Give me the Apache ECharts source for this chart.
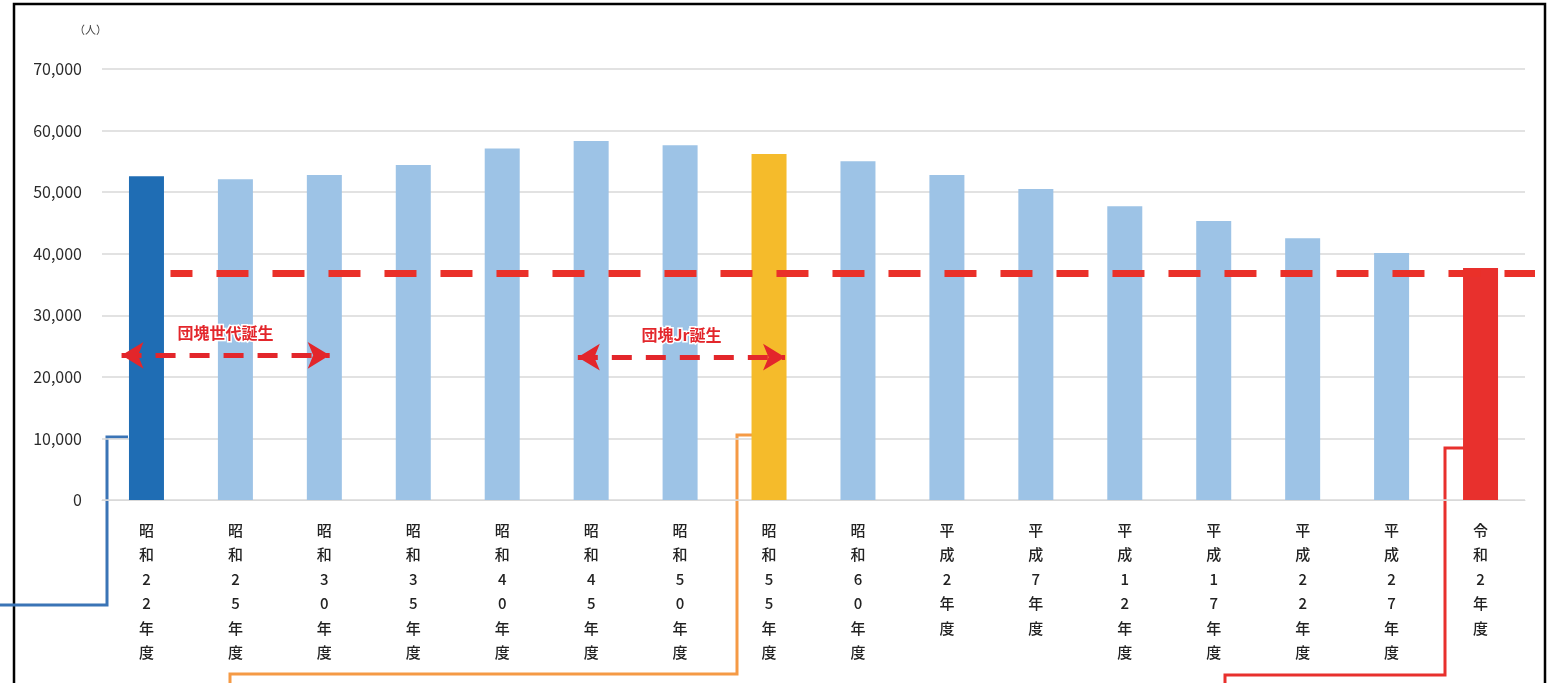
<!DOCTYPE html>
<html>
<head>
<meta charset="utf-8">
<script src="https://cdn.jsdelivr.net/npm/echarts@6/dist/echarts.min.js"></script>
<style>
  html, body { margin: 0; padding: 0; background: #fff; }
  #chart { width: 1559px; height: 683px; }
</style>
</head>
<body>
<div id="chart"></div>
<script>
// 年度ごとの人数（人）
const nendo = ['昭和22年度', '昭和25年度', '昭和30年度', '昭和35年度', '昭和40年度', '昭和45年度',
  '昭和50年度', '昭和55年度', '昭和60年度', '平成2年度', '平成7年度', '平成12年度',
  '平成17年度', '平成22年度', '平成27年度', '令和2年度']
const ninzu = [52600, 52100, 52800, 54400, 57100, 58300, 57600, 56200, 55000, 52800,
  50500, 47700, 45300, 42500, 40100, 37700]
const colores = ['#1f6db4', '#9dc3e6', '#9dc3e6', '#9dc3e6', '#9dc3e6', '#9dc3e6', '#9dc3e6',
  '#f5bb2b', '#9dc3e6', '#9dc3e6', '#9dc3e6', '#9dc3e6', '#9dc3e6', '#9dc3e6', '#9dc3e6', '#e8302d']
const lineaRef = 36850
// 矢印: [開始x, 終了x, y, ラベル]（x はカテゴリ番号）
const flechas = [
  [-0.28, 2.06, 23500, '団塊世代誕生'],
  [4.85, 7.18, 23200, '団塊Jr誕生']
]

const chart = echarts.init(document.getElementById('chart'))
const font = '"Noto Sans CJK JP", "Noto Sans", sans-serif'
const rojo = '#e3262b'

// 注釈用の2つ目のグリッドは右に10px広い（点線が枠の近くまで伸びるため）
const anchoG = 1559 - 102 - 34
const maxG2 = -0.5 + 16 * (anchoG + 10) / anchoG

const option = {
  animation: false,
  textStyle: { fontFamily: font },
  grid: [
    { left: 102, right: 34, top: 69, bottom: 183 },
    { left: 102, right: 24, top: 69, bottom: 183 }
  ],
  xAxis: [
    {
      type: 'category',
      data: nendo,
      axisLine: { lineStyle: { color: '#d9d9d9' } },
      axisTick: { show: false },
      axisLabel: {
        interval: 0,
        color: '#222',
        fontSize: 15,
        fontWeight: 500,
        lineHeight: 24.5,
        margin: 18,
        verticalAlign: 'top',
        formatter: v => v.split('').join('\n')
      }
    },
    { type: 'value', gridIndex: 1, min: -0.5, max: maxG2, show: false }
  ],
  yAxis: [
    {
      type: 'value',
      min: 0,
      max: 70000,
      interval: 10000,
      axisLine: { show: false },
      axisTick: { show: false },
      splitLine: { lineStyle: { color: '#d9d9d9', width: 1.5 } },
      axisLabel: {
        color: '#2a2a2a',
        fontSize: 16,
        margin: 20,
        formatter: v => v.toLocaleString('en-US')
      }
    },
    { type: 'value', gridIndex: 1, min: 0, max: 70000, show: false }
  ],
  series: [
    {
      type: 'bar',
      barWidth: 35,
      data: ninzu.map((v, i) => ({ value: v, itemStyle: { color: colores[i] } }))
    },
    {
      type: 'line',
      xAxisIndex: 1,
      yAxisIndex: 1,
      data: [],
      markLine: {
        silent: true,
        symbol: 'none',
        lineStyle: { color: '#ea3029', width: 7, type: [32, 24], dashOffset: 10 },
        data: [[
          { coord: [0.27, lineaRef] },
          { coord: [maxG2, lineaRef] }
        ]],
        label: { show: false }
      }
    },
    {
      type: 'line',
      xAxisIndex: 1,
      yAxisIndex: 1,
      data: [],
      markLine: {
        silent: true,
        symbol: ['arrow', 'arrow'],
        symbolSize: [20, 22],
        lineStyle: { color: rojo, width: 5, type: [20, 14] },
        label: {
          show: true,
          position: 'insideMiddleTop',
          distance: 14,
          color: rojo,
          fontSize: 16,
          fontWeight: 'bold',
          textBorderColor: '#fff',
          textBorderWidth: 3,
          formatter: p => p.name
        },
        data: flechas.map(f => [
          { name: f[3], coord: [f[0], f[2]] },
          { coord: [f[1], f[2]] }
        ])
      }
    }
  ],
  graphic: [
    {
      type: 'text',
      left: 74,
      top: 24,
      style: { text: '（人）', fontSize: 11, fill: '#404040', fontFamily: font }
    },
    {
      type: 'rect',
      shape: { x: 14, y: 4, width: 1531, height: 700 },
      style: { fill: 'none', stroke: '#000', lineWidth: 2.5 },
      silent: true
    },
    {
      type: 'polyline',
      shape: { points: [[0, 605], [107, 605], [107, 437], [128, 437]] },
      style: { fill: 'none', stroke: '#3a74b6', lineWidth: 3 }
    },
    {
      type: 'polyline',
      shape: { points: [[230, 690], [230, 674], [737, 674], [737, 435], [753, 435]] },
      style: { fill: 'none', stroke: '#f59a45', lineWidth: 3 }
    },
    {
      type: 'polyline',
      shape: { points: [[1225, 690], [1225, 675], [1445, 675], [1445, 448], [1464, 448]] },
      style: { fill: 'none', stroke: '#e8302d', lineWidth: 3 }
    }
  ]
}

chart.setOption(option)
</script>
</body>
</html>
